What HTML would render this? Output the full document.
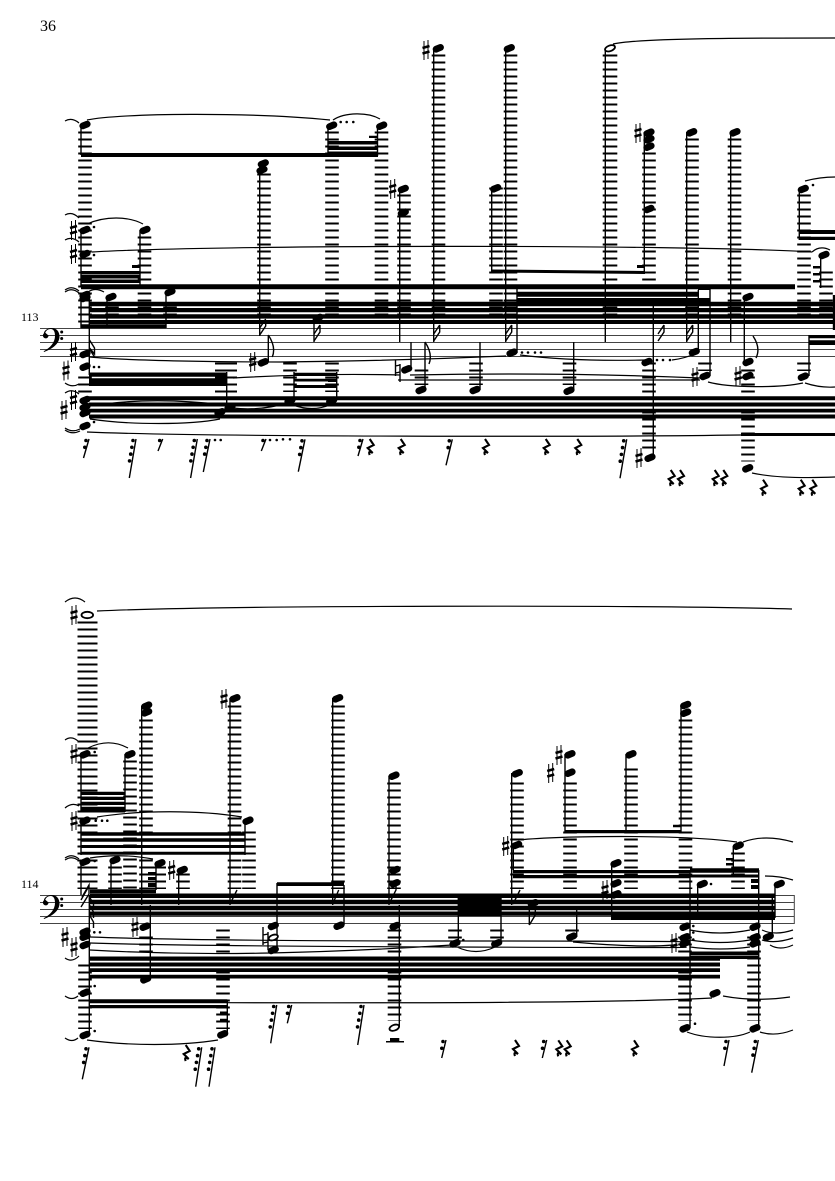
<!DOCTYPE html>
<html><head><meta charset="utf-8"><style>
html,body{margin:0;padding:0;background:#fff}
svg{display:block}
.st{stroke:#444;stroke-width:1;fill:none}
.l{stroke:#000;fill:none;stroke-width:13.6;stroke-dasharray:2 5}
.s{stroke:#000;fill:none;stroke-width:1.4}
.t{stroke:#000;fill:none;stroke-width:1.2}
.n{stroke:#000;fill:none;stroke-width:6.8;stroke-linecap:round}
.d{stroke:#000;fill:none;stroke-width:2.6;stroke-linecap:round}
.r{stroke:#000;fill:none;stroke-width:2.1}
.k{stroke:#000;fill:none;stroke-width:3.6;stroke-linecap:round;stroke-dasharray:0 6.9}
.h1{stroke:#000;fill:none;stroke-width:1}
.h2{stroke:#000;fill:none;stroke-width:2.5}
.m{font-family:"Liberation Serif",serif;fill:#000}
</style></head><body>
<svg width="835" height="1181" viewBox="0 0 835 1181" xmlns="http://www.w3.org/2000/svg">
<rect width="835" height="1181" fill="#fff"/>
<text class="m" x="40" y="31" font-size="16">36</text>
<text class="m" x="21" y="321" font-size="12">113</text>
<text class="m" x="21" y="888" font-size="12">114</text>

<!-- staves -->
<path class="st" d="M40 328.500H835M40 335.500H835M40 342.500H835M40 349.500H835M40 356.500H835M40 895.500H794M40 902.500H794M40 909.500H794M40 916.500H794M40 923.500H794M794.300 895V924"/>

<!-- clefs -->
<g><path fill="#000" d="M48.500 335.500a2.800 2.800 0 1 1-4.700-2C44.300 330 48 328 51.500 328C56.500 328 59.500 331.500 59.500 336.500C59.500 343.500 52.500 349 44 352L43.700 351.200C50 348 55 342.500 55 336C55 331.500 53.500 329 50.800 329C48 329 45.800 330.800 45.300 332.800z"/><circle cx="61.700" cy="332" r="1.500"/><circle cx="61.700" cy="338.500" r="1.500"/></g>
<g transform="translate(0,567)"><path fill="#000" d="M48.500 335.500a2.800 2.800 0 1 1-4.700-2C44.300 330 48 328 51.500 328C56.500 328 59.500 331.500 59.500 336.500C59.500 343.500 52.500 349 44 352L43.700 351.200C50 348 55 342.500 55 336C55 331.500 53.500 329 50.800 329C48 329 45.800 330.800 45.300 332.800z"/><circle cx="61.700" cy="332" r="1.500"/><circle cx="61.700" cy="338.500" r="1.500"/></g>

<!-- ledger stacks -->
<path class="l" d="M85 131.500V323M144.500 236.500V323M264 173.500V316M332 131.500V316M381.500 131.500V316M404 194.500V316M438.500 54.500V316M510.500 54.500V316M496 187.500V316M649 152.500V281M692 138.500V316M734.500 138.500V316M804 194.500V316M826 271.500V316M112 306.500V323M170 306.500V323
M290 362.500V392M332 362.500V392M421.500 369.500V385M476 362.500V385M569.500 362.500V385M649 362.500V451.500M748 369.500V461.500M804 362.500V371M705 362.500V371M85 376.500V393
M130 760.500V889M146 719.500V889M234.500 705.500V889M249 831.500V889M183 873.500V889M115 866.500V889M338 705.500V889M394 782.500V889M517 782.500V889M570 782.500V889M631 768.500V889M685.500 719.500V889M738 852.500V889
M223 929.500V1029M394.500 929.500V1021M455 929.500V939M497 929.500V939M572 929.500V932M685 936.500V1021M754 936.500V1021M146 936.500V953M85 964.500V1029"/>
<path class="l" style="stroke-width:14.600" d="M610 54.500V316"/>
<path class="l" style="stroke-width:22" d="M226 362.500V399"/>
<path class="l" style="stroke-width:20" d="M87.500 621.500V889"/>
<path class="l" style="stroke-width:18" d="M157 866.500V889"/>

<!-- beams -->
<path fill="#000" d="M81 153H378V157H81z
M328 141H377.500V144.500H328zM328 146.500H377.500V150H328zM328 151.500H377.500V155H328zM369 135.700H377.500V138H369z
M81 271H140V274.500H81zM81 275H140V278.500H81zM81 279.500H140V283H81zM132 265H140V268H132z
M81 284.300H795V289.300H81z
M90 301.800H835V306.300H90zM90 308H835V312.300H90zM90 314.300H835V318.600H90zM90 320H835V324H90z
M81 324.300H166V328.300H81z
M517 291.700H698V296.700H517zM517 298H710V302.700H517z
M698 288H710V290H698z
M491 269.500L645 271V274L491 272.500z
M637 265H644.500V268H637z
M799 230H835V234H799zM799 236.700H835V240H799z
M813 266H821V268.500H813zM813 273H821V275.500H813zM813 280H821V282.500H813z
M809 335H835V338.300H809zM809 340.300H835V345H809z
M89 372.500H226.700V376.700H89zM89 378.300H226.700V386H89z
M294 372.700H336.700V376H294zM294 378.700H336.700V381.500H294zM294 385H336.700V388H294zM328 380H336.700V382H328z
M89 396.300H835V400.300H89zM89 402.500H835V406.500H89zM89 408.700H835V412.500H89zM89 414.500H835V418.500H89z
M741 433H835V436H741z
M832.800 295H835V330H832.800z
M81 791.700H125V795H81zM81 796.700H125V800H81zM81 801.700H125V805H81zM81 806.700H125V812.500H81z
M81 832.300H245V835.700H81zM81 838.300H245V841.700H81zM81 845H245V848H81zM81 851.700H245V854.800H81z
M90 889.300H156V893.300H90zM148 872H156V874.500H148zM148 877H156V880H148zM148 883H156V887H148z
M90 893.500H775V898H90zM90 899.800H775V904.300H90zM90 905.800H775V910.300H90zM90 911.500H775V915.700H90z
M611.700 915.700H775V920H611.700z
M458 896H501V916H458z
M90 956.500H720V960.700H90zM90 962.500H720V966.500H90zM90 968.300H720V972H90zM90 974.700H720V978.500H90z
M690 951.500H759V955H690zM690 955.500H759V959H690z
M90 999.300H227.300V1003.300H90zM90 1005H227.300V1008.300H90z
M220 1011.500H227.300V1014H220zM220 1018.700H227.300V1021.300H220z
M277 882.300H344V886H277z
M565 830H681V833.300H565zM673 824.800H681V827.300H673z
M513 870H690V873.300H513zM513 875H690V878.300H513z
M690 868.300H759V872.800H690zM690 874.500H759V877.500H690z
M726 858H733.500V860.500H726zM726 863H733.500V865.500H726zM726 868.800H733.500V871H726z
M751 879H759V883H751zM751 885H759V889H751z
M386 1041H404V1042.500H386zM390 1038H399.300V1042H390z"/>

<!-- stems -->
<path class="s" d="M81 125V155M81 230V286M140 230V285M81 295V328M89.300 295V375M107 297V328M166 292V328M328 126V156M377.500 126V156M259.700 165V336M268.300 335V362M314 320V342M399.700 189V342M411 342V369M425 342V390M433.700 48V342M480 342V390M491.700 188V270M505.700 48V342M517 288V353M573.700 342V390M605.300 48V342M644.300 132V272M653.300 306V457M686.700 132V342M698.300 290V352M710 288V376M730.700 132V342M744.300 297V362M809 335V376M799.300 189V240M820.700 255V288M226.700 372V412M294 372V400M336.700 372V400
M81 754V812M125 754V812M141.700 706V905M230 698V905M81 821V855M245 821V855M81 861V895M111 860V905M156 863V890M178.700 870V905M89.300 895V1035M150.300 905V980M227.300 1000V1035M277 883V950M332.700 698V905M344 885V925M389 776V905M399.300 905V1027M458.300 895V943M501 895V943M511.700 773V905M513.300 845V870M529.300 905V925M565 754V832M576.700 908V937M611.700 863V920M626 754V832M681 706V832M690 870V1028M697.700 884V918M733.300 846V876M758.700 870V1028M772.300 895V937M775 884V918"/>

<!-- flags / hatch -->
<path class="s" d="M259.700 335l6-9v-6M259.700 328l6-9M314 341l6-9v-7M314 334l6-9M433.700 341l6-9v-7M433.700 334l6-9M505.700 341l6-9v-7M505.700 334l6-9M686.700 341l6-9v-7M686.700 334l6-9M658 341l6-9v-7M658 334l6-9M268.300 335q8 12 4 22M425 342q8 12 4 22M753 336q8 12 3 22
M89.500 340l5 8v6l-5-6M89.500 349l5 8M230 904l7-14M81 907l8-13v-9l-7 12M81 900l8-14M89.500 897l4 7v6M89.500 905l4 7v6M89.500 915l4 7v6M332.700 904l6-14M389 904l7-14v-8M513 904l7-14M529.300 925l6-10v-8"/>

<!-- noteheads -->
<path class="n" d="M85 125m-2.200.9l4.400-1.800M331.700 125.700m-2.200.9l4.400-1.800M381.700 125.700m-2.200.9l4.400-1.800
M85 230m-2.200.9l4.400-1.800M145 230m-2.200.9l4.400-1.800M85 254m-2.200.9l4.400-1.800M85 295m-2.200.9l4.400-1.800M85 298m-2.200.9l4.400-1.800M111 297m-2.200.9l4.400-1.800M170 292m-2.200.9l4.400-1.800
M263.300 163.500m-2.200.9l4.400-1.800M262 170m-2.200.9l4.400-1.800M263.300 362.300m-2.200.9l4.400-1.800M318 318m-2 1l4-2
M403.300 189m-2.200.9l4.400-1.800M403.300 212.700m-2.200.9l4.400-1.800M438.300 48.300m-2.200.9l4.400-1.800M509.300 48.300m-2.200.9l4.400-1.800M495.700 188.300m-2.200.9l4.400-1.800
M649 132.700m-2.200.9l4.400-1.800M649 139.300m-2.200.9l4.400-1.800M649 146.700m-2.200.9l4.400-1.800M649 209m-2.200.9l4.400-1.800M691.700 132.300m-2.200.9l4.400-1.800M735 132.300m-2.200.9l4.400-1.800M803.300 189m-2.200.9l4.400-1.800M824 255m-2.200.9l4.400-1.800M748 297m-2.200.9l4.400-1.800M748 362m-2.200.9l4.400-1.800M748 376m-2.200.9l4.400-1.800M705 376m-2.200.9l4.400-1.800M803.300 376.700m-2.200.9l4.400-1.800M694.300 352m-2.200.9l4.400-1.800M512 352.700m-2.200.9l4.400-1.800M647 362m-2.200.9l4.400-1.800
M85 354m-2.200.9l4.400-1.800M85 366.700m-2.200.9l4.400-1.800M85 400m-2.200.9l4.400-1.800M85 407m-2.200.9l4.400-1.800M85 413m-2.200.9l4.400-1.800M85 426m-2.200.9l4.400-1.800M220 412.300m-2.200.9l4.400-1.800M230 407.300m-2.200.9l4.400-1.800M290 400.700m-2.200.9l4.400-1.800M331.700 400.700m-2.200.9l4.400-1.800
M406.700 369.300m-2.200.9l4.400-1.800M421 390m-2.200.9l4.400-1.800M475 390m-2.200.9l4.400-1.800M569 390.700m-2.200.9l4.400-1.800M650 457.700m-2.200.9l4.400-1.800M747.700 468.300m-2.200.9l4.400-1.800
M85 754.300m-2.200.9l4.400-1.800M130 754.300m-2.200.9l4.400-1.800M146.700 705.700m-2.200.9l4.400-1.800M146.700 712.300m-2.200.9l4.400-1.800M235 698.300m-2.200.9l4.400-1.800M85 820.700m-2.200.9l4.400-1.800M248 820.700m-2.200.9l4.400-1.800M85 861.700m-2.200.9l4.400-1.800M115 860m-2.200.9l4.400-1.800M160 863.300m-2.200.9l4.400-1.800M182.300 870m-2.200.9l4.400-1.800
M85 931.700m-2.200.9l4.400-1.800M85 936.700m-2.200.9l4.400-1.800M85 945m-2.200.9l4.400-1.800M85 992.700m-2.200.9l4.400-1.800M85 1035m-2.200.9l4.400-1.800M145 926.700m-2.200.9l4.400-1.800M145.700 979.300m-2.200.9l4.400-1.800M222.700 1034.300m-2.200.9l4.400-1.800M337.700 698.300m-2.200.9l4.400-1.800M339 925.700m-2.200.9l4.400-1.800M273.300 926m-2.200.9l4.400-1.800M273.300 950m-2.200.9l4.400-1.800
M394 775.700m-2.200.9l4.400-1.800M395 870m-2.200.9l4.400-1.800M395 883.300m-2.200.9l4.400-1.800M395 926m-2.200.9l4.400-1.800M455 943.300m-2.200.9l4.400-1.800M496.700 943.300m-2.200.9l4.400-1.800M517.300 773.300m-2.200.9l4.400-1.800M516.700 845m-2.200.9l4.400-1.800M533.300 903.300m-2.200.9l4.400-1.800
M570 754.300m-2.200.9l4.400-1.800M570 772.700m-2.200.9l4.400-1.800M631 754.300m-2.200.9l4.400-1.800M685.700 705m-2.200.9l4.400-1.800M685.700 712.700m-2.200.9l4.400-1.800M571.700 936.700m-2.200.9l4.400-1.800M616 863.300m-2.200.9l4.400-1.800M616 883.300m-2.200.9l4.400-1.800M616 894.300m-2.200.9l4.400-1.800M702.300 884m-2.200.9l4.400-1.800M738.300 845.700m-2.200.9l4.400-1.800M779.300 884m-2.200.9l4.400-1.800
M685 926.700m-2.200.9l4.400-1.800M685 937.300m-2.200.9l4.400-1.800M685 943.300m-2.200.9l4.400-1.800M755 926.700m-2.200.9l4.400-1.800M755 937.300m-2.200.9l4.400-1.800M755 943.300m-2.200.9l4.400-1.800M768.300 936.700m-2.200.9l4.400-1.800M715 993.300m-2.200.9l4.400-1.800M685 1028.300m-2.200.9l4.400-1.800M755 1028.300m-2.200.9l4.400-1.800"/>

<!-- open noteheads -->
<g fill="#fff" stroke="#000" stroke-width="1.800">
<ellipse cx="610" cy="48.300" rx="5.200" ry="2.800" transform="rotate(-20 610 48.300)"/>
<ellipse cx="87.300" cy="615" rx="5.800" ry="3.200"/>
<ellipse cx="394.300" cy="1027.700" rx="5" ry="2.800" transform="rotate(-20 394.300 1027.700)"/>
<ellipse cx="273.300" cy="937.500" rx="4.800" ry="2.600" transform="rotate(-20 273.300 937.500)"/>
</g>

<!-- augmentation dots -->
<path class="d" d="M94 227h0M94 255h0M94 367h0M99 367h0M94 422h0M340.700 122h0M346.700 122h0M353.300 122h0M215 440h0M220.700 440h0M270 440h0M276.700 440h0M283 439.300h0M290 439.300h0M522 352.500h0M528 352.500h0M535 352.500h0M541 352.500h0M813 185h0M657 360h0M663 360h0M670 360h0
M94.700 752h0M95.700 820.700h0M102 820.700h0M107.300 820.700h0M94.700 861h0M94.300 932.300h0M100 932.300h0M94.700 986h0M94.700 1031h0M463.300 940h0M693.300 926h0M693.300 932.500h0M693.300 939.500h0M711 884h0M695 1023.700h0"/>

<!-- slurs & ties -->
<path class="t" d="M87 120C120 113 250 112 330 120M333 120C345 112 368 112 380 119M65 121Q72 117 79 123M87 224C105 216 128 216 143 224M92 252C200 245 680 244 812 252M65 215Q72 211 79 218M65 240Q72 236 79 242M65 290Q72 285 79 291M65 292Q72 287 79 293M88 292Q95 287 104 292M65 383Q72 388 79 384M65 393Q72 388 79 394M65 428Q72 433 80 429M65 430Q72 435 80 431
M90 357C130 361 230 362 280 362C380 361 460 358 506 356M520 355C560 360 600 361 645 360M672 360C680 359 688 357 694 354
M233 378Q320 373 400 375M398 380H700M410 375Q560 372 700 378
M90 406Q150 396 226 405M90 419C130 425 190 425 220 419M233 408Q260 411 288 403M293 405Q312 412 330 405
M87 432C200 437 600 437 741 435
M613 44C640 38 750 38 835 38M805 181Q820 177 835 177M708 382C730 388 780 388 803 383M805 383Q820 388 835 387M752 473C775 478 810 478 835 477M812 252Q820 245 830 250
M97 611C230 605 650 605 792 609M65 602Q75 594 85 602M88 748C102 741 115 741 128 748M65 740Q72 735 79 742M65 808Q72 802 79 806M97 817C140 810 200 810 242 817M65 858Q72 853 79 859M65 860Q72 855 79 861M90 858Q120 853 153 859M65 958Q72 963 79 956M65 996Q72 1001 78 996M65 1038Q72 1043 78 1038
M90 937Q200 941 452 941T680 942M90 943Q180 946 452 947T680 947M90 950Q180 955 270 953T452 945M457 947Q476 956 495 947M573 942Q640 948 673 945
M87 1040C130 1046 180 1046 218 1040M228 1002.700C400 1003 620 1003 712 998M723 996Q755 1002 790 997M687 1032C705 1039 735 1039 750 1032M760 1032Q775 1037 793 1030
M518 840C560 836 680 834 737 842M743 842Q765 834 793 842M690 930Q720 936 750 930M690 940Q720 945 750 940M690 947Q720 951 750 947M762 930Q775 936 793 930M762 940Q775 944 793 938M770 945Q780 951 793 945M765 876Q780 876 793 880"/>

<!-- natural signs -->
<path class="s" d="M395.500 360V376M400 364V382M395.500 366L400 365M395.500 373L400 372M263 927V945M268 932V950M263 935L268 934M263 943L268 942"/>

<!-- sharps -->
<path class="h1" d="M73.500 230m-2-9v19m4-20v19M73.500 254m-2-9v19m4-20v19M73.500 352m-2-9v19m4-20v19M66 370.500m-2-9v19m4-20v19M73.500 400m-2-9v19m4-20v19M64 410m-2-9v19m4-20v19M252.700 362m-2-9v19m4-20v19M392.700 189m-2-9v19m4-20v19M426 50m-2-9v19m4-20v19M638 133m-2-9v19m4-20v19M639 458m-2-9v19m4-20v19M695 377m-2-9v19m4-20v19M738 376m-2-9v19m4-20v19M74 615m-2-9v19m4-20v19M74 754m-2-9v19m4-20v19M74 821m-2-9v19m4-20v19M171.700 870m-2-9v19m4-20v19M224 699m-2-9v19m4-20v19M135 927m-2-9v19m4-20v19M65 937m-2-9v19m4-20v19M74 947m-2-9v19m4-20v19M505.700 846m-2-9v19m4-20v19M559 755m-2-9v19m4-20v19M550.700 773m-2-9v19m4-20v19M605 890m-2-9v19m4-20v19M674 943m-2-9v19m4-20v19"/>
<path class="h2" d="M73.500 230m-3.500-2l7-2m-7 7.500l7-2M73.500 254m-3.500-2l7-2m-7 7.500l7-2M73.500 352m-3.500-2l7-2m-7 7.500l7-2M66 370.500m-3.500-2l7-2m-7 7.500l7-2M73.500 400m-3.500-2l7-2m-7 7.500l7-2M64 410m-3.500-2l7-2m-7 7.500l7-2M252.700 362m-3.500-2l7-2m-7 7.500l7-2M392.700 189m-3.500-2l7-2m-7 7.500l7-2M426 50m-3.500-2l7-2m-7 7.500l7-2M638 133m-3.500-2l7-2m-7 7.500l7-2M639 458m-3.500-2l7-2m-7 7.500l7-2M695 377m-3.500-2l7-2m-7 7.500l7-2M738 376m-3.500-2l7-2m-7 7.500l7-2M74 615m-3.500-2l7-2m-7 7.500l7-2M74 754m-3.500-2l7-2m-7 7.500l7-2M74 821m-3.500-2l7-2m-7 7.500l7-2M171.700 870m-3.500-2l7-2m-7 7.500l7-2M224 699m-3.500-2l7-2m-7 7.500l7-2M135 927m-3.500-2l7-2m-7 7.500l7-2M65 937m-3.500-2l7-2m-7 7.500l7-2M74 947m-3.500-2l7-2m-7 7.500l7-2M505.700 846m-3.500-2l7-2m-7 7.500l7-2M559 755m-3.500-2l7-2m-7 7.500l7-2M550.700 773m-3.500-2l7-2m-7 7.500l7-2M605 890m-3.500-2l7-2m-7 7.500l7-2M674 943m-3.500-2l7-2m-7 7.500l7-2"/>

<!-- quarter rests -->
<path class="r" d="M370.700 447m-1-8l4 6-6 3 5 5q-5-3-3 2M401.700 447m-1-8l4 6-6 3 5 5q-5-3-3 2M486 447m-1-8l4 6-6 3 5 5q-5-3-3 2M546.700 447m-1-8l4 6-6 3 5 5q-5-3-3 2M578.300 447m-1-8l4 6-6 3 5 5q-5-3-3 2M671.700 478m-1-8l4 6-6 3 5 5q-5-3-3 2M681 478m-1-8l4 6-6 3 5 5q-5-3-3 2M715.700 478m-1-8l4 6-6 3 5 5q-5-3-3 2M724.300 478m-1-8l4 6-6 3 5 5q-5-3-3 2M764 487.700m-1-8l4 6-6 3 5 5q-5-3-3 2M801.700 487.700m-1-8l4 6-6 3 5 5q-5-3-3 2M813.300 487.700m-1-8l4 6-6 3 5 5q-5-3-3 2
M186.700 1053m-1-8l4 6-6 3 5 5q-5-3-3 2M516 1048m-1-8l4 6-6 3 5 5q-5-3-3 2M559.300 1048.300m-1-8l4 6-6 3 5 5q-5-3-3 2M567.700 1048.300m-1-8l4 6-6 3 5 5q-5-3-3 2M635 1048.300m-1-8l4 6-6 3 5 5q-5-3-3 2"/>

<!-- hooked rest stems -->
<path class="s" d="M89 439l-5.500 19M136 439l-6.700 39M162.700 439l-4.700 12M197.300 439l-6.700 39M210 439l-6.700 33M266 439l-4.700 12M305 439.300l-6.700 32.400M363 439l-5 17M452.300 439.300l-6.300 26M626.700 439.300l-6.700 39
M89 1047.300l-6.700 32M201.700 1047.300l-6 39.400M215 1047.300l-6 39.400M276.700 1005l-6 38.300M291.700 1005l-4.400 18.300M364 1005l-6.300 40M446 1040l-4.300 18M546.700 1040l-4.400 18M729 1040l-5 26M758.300 1040l-6.600 32.700"/>
<!-- rest hooks -->
<path class="k" d="M86 440.500l-1.200 6.800M133 440.500l-4.600 27.200M159.700 440.500v.1M194.300 440.500l-4.600 27.200M207 440.500l-3.500 20.400M263 440.500v.1M302 440.800l-3.500 20.400M360 440.500l-2.300 13.600M449.300 440.800l-2.300 13.600M623.700 440.800l-4.600 27.200
M86 1048.800l-3.500 20.400M198.700 1048.800l-4.600 27.200M212 1048.800l-4.600 27.200M273.700 1006.500l-4.600 27.200M288.700 1006.500l-1.200 6.800M361 1006.500l-4.600 27.200M443 1041.500l-1.200 6.800M543.700 1041.500l-1.200 6.800M726 1041.500l-2.300 13.600M755.300 1041.500l-3.500 20.400"/>
</svg>
</body></html>
